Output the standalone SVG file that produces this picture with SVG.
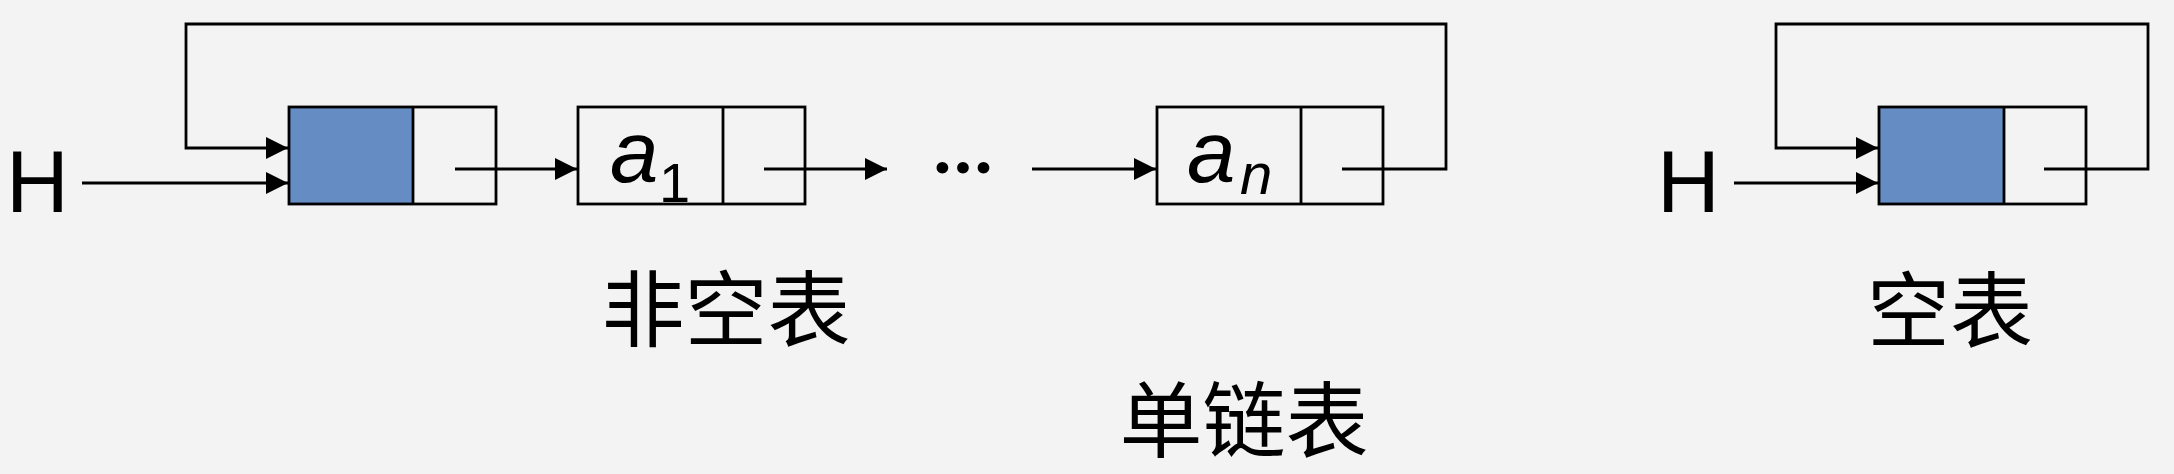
<svg xmlns="http://www.w3.org/2000/svg" width="2174" height="474" viewBox="0 0 2174 474">
<style>
.bg{fill:#f3f3f3}
.box{fill:none;stroke:#000;stroke-width:2.8}
.blue{fill:#658dc3}
.ln{fill:none;stroke:#000;stroke-width:2.8}
.arr{marker-end:url(#ah)}
.lat{font-family:"Liberation Sans",Arial,sans-serif;fill:#000}
.it{font-style:italic}
.cjk{font-family:"Noto Sans CJK SC","Noto Sans",sans-serif;font-size:83px;fill:#000;text-anchor:middle}
</style>
<defs>
<marker id="ah" markerUnits="userSpaceOnUse" markerWidth="22" markerHeight="24" refX="22" refY="12" orient="auto">
<path d="M0,1 L22,12 L0,23 z" fill="#000"/>
</marker>
</defs>
<rect class="bg" x="0" y="0" width="2174" height="474"/>
<g id="label-H1"><text class="lat" x="6" y="212" font-size="87">H</text></g>
<g id="label-H2"><text class="lat" x="1657" y="212" font-size="87">H</text></g>
<g id="head1">
<rect class="blue" x="289" y="107" width="124" height="97"/>
<rect class="box" x="289" y="107" width="207" height="97"/>
<line class="box" x1="413" y1="107" x2="413" y2="204"/>
</g>
<g id="node-a1">
<rect class="box" x="578" y="107" width="227" height="97"/>
<line class="box" x1="723" y1="107" x2="723" y2="204"/>
<text class="lat it" x="610" y="182" font-size="87">a</text>
<text class="lat" x="659" y="202" font-size="56">1</text>
</g>
<g id="dots"><text x="963" y="173" font-family="Lato,sans-serif" font-size="77" font-weight="bold" text-anchor="middle" fill="#000">…</text></g>
<g id="node-an">
<rect class="box" x="1157" y="107" width="226" height="97"/>
<line class="box" x1="1301" y1="107" x2="1301" y2="204"/>
<text class="lat it" x="1187" y="182" font-size="87">a</text>
<text class="lat it" x="1240" y="194" font-size="58">n</text>
</g>
<g id="head2">
<rect class="blue" x="1879" y="107" width="125" height="97"/>
<rect class="box" x="1879" y="107" width="207" height="97"/>
<line class="box" x1="2004" y1="107" x2="2004" y2="204"/>
</g>
<g id="connectors">
<path class="ln arr" d="M82,183 H288"/>
<path class="ln arr" d="M1342,169 H1446 V24 H186 V148 H288"/>
<path class="ln arr" d="M455,169 H577"/>
<path class="ln arr" d="M764,169 H887"/>
<path class="ln arr" d="M1032,169 H1156"/>
<path class="ln arr" d="M1734,183 H1878"/>
<path class="ln arr" d="M2044,169 H2148 V24 H1776 V148 H1878"/>
</g>
<g id="captions">
<text class="cjk" x="726" y="340">非空表</text>
<text class="cjk" x="1244" y="451">单链表</text>
<text class="cjk" x="1950" y="341">空表</text>
</g>
</svg>
